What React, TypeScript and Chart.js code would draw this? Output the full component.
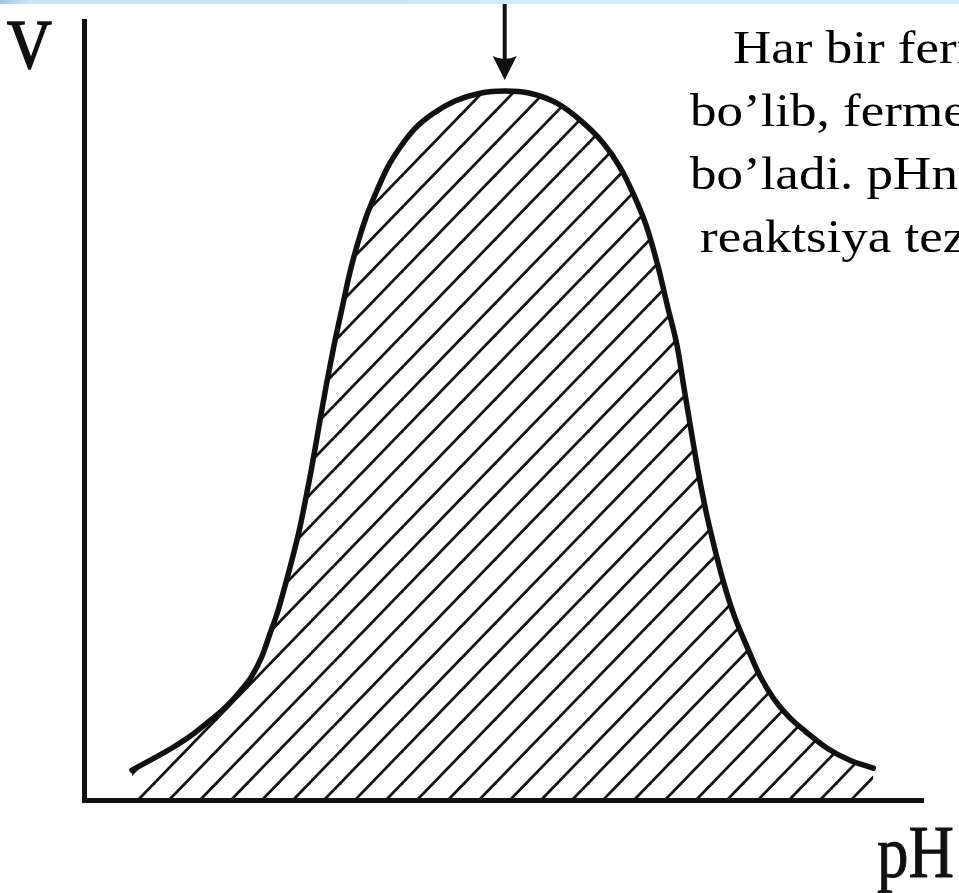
import { useEffect, useRef } from "react";
import { Chart, registerables } from "chart.js";

Chart.register(...registerables);

// Enzyme activity (V) against pH: bell-shaped curve with its optimum near pH 7.
const PH = [
  0.8, 1.1, 1.44, 1.77, 2.1, 2.35, 2.6, 2.8, 2.97, 3.1, 3.24, 3.35, 3.47, 3.59, 3.69,
  3.79, 3.87, 3.95, 4.05, 4.17, 4.31, 4.44, 4.57, 4.72, 4.89, 5.07, 5.27, 5.52, 5.82,
  6.19, 6.61, 7.02, 7.44, 7.89, 8.28, 8.66, 8.94, 9.16, 9.39, 9.58, 9.74, 9.9, 10.01,
  10.13, 10.25, 10.38, 10.51, 10.66, 10.83, 11.05, 11.28, 11.51, 11.78, 12.05, 12.4,
  12.78, 13.17,
];
const RATE = [
  4.2, 5.6, 7.2, 9.0, 11.2, 13.0, 15.3, 17.5, 20.3, 23.4, 26.8, 30.1, 33.9, 38.0, 42.1,
  46.5, 50.3, 54.2, 58.9, 64.1, 69.6, 74.6, 78.7, 82.6, 86.1, 89.4, 92.1, 94.8, 96.9,
  98.7, 99.8, 100.1, 99.8, 98.4, 96.0, 92.8, 89.4, 85.7, 80.9, 75.3, 69.6, 64.0, 58.3,
  52.2, 46.3, 40.7, 36.0, 31.1, 26.5, 21.9, 17.5, 14.3, 11.6, 9.6, 7.3, 5.6, 4.5,
];
const PH_RANGE = [0, 14];
const RATE_RANGE = [0, 110];

const Y_LABEL = "V";
const X_LABEL = "pH";
const SIDE_TEXT = [
  "Har bir ferment",
  "bo’lib, fermentning",
  "bo’ladi. pHning",
  "reaktsiya tezligi",
];

const INK = "#111";
const SERIF = '"Liberation Serif", "Times New Roman", serif';

// Diagonal hatching used to fill the area under the curve.
function makeHatch(): CanvasPattern | string {
  const W = 31;
  const H = 32;
  const shift = 14;
  const tile = document.createElement("canvas");
  tile.width = W;
  tile.height = H;
  const c = tile.getContext("2d");
  if (!c) return "rgba(0,0,0,0.2)";
  c.strokeStyle = INK;
  c.lineWidth = 2.7;
  const lineY = (x: number, k: number) => H - (H / W) * (x - shift) + H * k;
  for (const k of [-2, -1, 0, 1, 2]) {
    c.beginPath();
    c.moveTo(-W, lineY(-W, k));
    c.lineTo(2 * W, lineY(2 * W, k));
    c.stroke();
  }
  return c.createPattern(tile, "repeat") || "rgba(0,0,0,0.2)";
}

// Downward arrow pointing at the optimum (the highest point of the curve).
const optimumArrow = {
  id: "optimumArrow",
  afterDatasetsDraw(chart: any) {
    let iMax = 0;
    RATE.forEach((v, i) => {
      if (v > RATE[iMax]) iMax = i;
    });
    const x = chart.scales.x.getPixelForValue(PH[iMax]);
    const y = chart.scales.y.getPixelForValue(RATE[iMax]);
    const ctx = chart.ctx as CanvasRenderingContext2D;
    ctx.save();
    ctx.strokeStyle = INK;
    ctx.fillStyle = INK;
    ctx.lineWidth = 4;
    ctx.beginPath();
    ctx.moveTo(x, 0);
    ctx.lineTo(x, y - 30);
    ctx.stroke();
    ctx.beginPath();
    ctx.moveTo(x - 12, y - 35);
    ctx.quadraticCurveTo(x, y - 29, x + 12, y - 35);
    ctx.lineTo(x, y - 11);
    ctx.closePath();
    ctx.fill();
    ctx.restore();
  },
};

function PhChart() {
  const ref = useRef<HTMLCanvasElement | null>(null);

  useEffect(() => {
    if (!ref.current) return;
    const hatch = makeHatch();
    const chart = new Chart(ref.current, {
      type: "line",
      data: {
        datasets: [
          {
            data: PH.map((x, i) => ({ x, y: RATE[i] })),
            borderColor: INK,
            borderWidth: 5.5,
            borderCapStyle: "round",
            borderJoinStyle: "round",
            backgroundColor: hatch as any,
            fill: "origin",
            pointRadius: 0,
            cubicInterpolationMode: "monotone",
            clip: false as any,
          },
        ],
      },
      options: {
        animation: false,
        responsive: false,
        events: [],
        layout: { padding: { left: 84, right: 36, top: 21, bottom: 93 } },
        plugins: { legend: { display: false }, tooltip: { enabled: false } },
        scales: {
          x: {
            type: "linear",
            min: PH_RANGE[0],
            max: PH_RANGE[1],
            grid: { display: false, drawTicks: false },
            ticks: { display: false },
            border: { display: true, color: INK, width: 5 },
          },
          y: {
            type: "linear",
            min: RATE_RANGE[0],
            max: RATE_RANGE[1],
            grid: { display: false, drawTicks: false },
            ticks: { display: false },
            border: { display: true, color: INK, width: 5 },
          },
        },
      },
      plugins: [optimumArrow],
    });
    return () => chart.destroy();
  }, []);

  return (
    <canvas
      ref={ref}
      width={959}
      height={893}
      style={{ position: "absolute", left: 0, top: 0, width: 959, height: 893 }}
    />
  );
}

export default function App() {
  // Side text: 53px serif, 63px line pitch, first baseline at y = 63.
  const sideSize = 53;
  const sideLine = 63;
  const sideBaseline = (sideLine - 1.107 * sideSize) / 2 + 0.891 * sideSize;
  const lineLefts = [733, 690, 690, 700];
  return (
    <div
      style={{
        position: "absolute",
        left: 0,
        top: 0,
        width: 959,
        height: 893,
        overflow: "hidden",
        background: "#fff",
      }}
    >
      <PhChart />
      <div
        style={{
          position: "absolute",
          left: 0,
          top: 0,
          width: 959,
          height: 4,
          background: "linear-gradient(90deg, #9cc8ec 0%, #cfe5f7 3%, #d4e8f8 100%)",
        }}
      />
      <div
        style={{
          position: "absolute",
          left: 7,
          top: 9,
          fontFamily: SERIF,
          fontSize: 62,
          lineHeight: "62px",
          color: INK,
          WebkitTextStroke: "1.5px #111",
          transform: "scaleY(1.13)",
          transformOrigin: "0 0",
        }}
      >
        {Y_LABEL}
      </div>
      <div
        style={{
          position: "absolute",
          left: 877,
          top: 816,
          fontFamily: SERIF,
          fontSize: 63,
          lineHeight: "63px",
          color: INK,
          WebkitTextStroke: "0.8px #111",
          transform: "scaleY(1.17)",
          transformOrigin: "0 0",
          whiteSpace: "nowrap",
        }}
      >
        {X_LABEL}
      </div>
      {SIDE_TEXT.map((t, i) => (
        <div
          key={i}
          style={{
            position: "absolute",
            left: lineLefts[i],
            top: 63 + i * sideLine - sideBaseline,
            fontFamily: SERIF,
            fontSize: sideSize,
            lineHeight: `${sideLine}px`,
            color: "#000",
            whiteSpace: "nowrap",
            transform: "scaleY(0.87)",
            transformOrigin: `0 ${sideBaseline}px`,
          }}
        >
          {t}
        </div>
      ))}
    </div>
  );
}
